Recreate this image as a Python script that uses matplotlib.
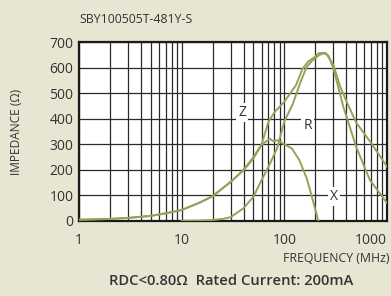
import matplotlib.pyplot as plt
from matplotlib.ticker import FixedLocator, NullFormatter

plt.rcParams['font.family'] = ['Open Sans', 'DejaVu Sans']

title = 'SBY100505T-481Y-S'
note = 'RDC<0.80Ω  Rated Current: 200mA'

# curves (MHz, ohm)
z_freq = [1, 2, 3, 5, 7, 10, 15, 20, 30, 40, 50, 60, 70, 80, 100, 130, 150,
          170, 200, 215, 240, 260, 300, 350, 400, 500, 700, 1000]
z_val = [5, 8, 12, 20, 30, 43, 72, 97, 153, 200, 250, 300, 388, 425, 467, 532,
         595, 623, 643, 656, 658, 650, 610, 525, 470, 385, 305, 212]

r_freq = [10, 15, 20, 25, 30, 40, 50, 60, 70, 85, 100, 120, 145, 165, 190,
          220, 250, 270, 300, 375, 500, 680, 1000]
r_val = [1, 2, 4, 8, 15, 50, 95, 160, 212, 285, 390, 455, 548, 603, 630,
         650, 658, 645, 597, 447, 290, 160, 70]

x_freq = [1, 2, 3, 5, 7, 10, 15, 20, 30, 40, 50, 60, 67, 72, 78, 85, 98,
          118, 140, 165, 185, 200, 214]
x_val = [5, 8, 12, 20, 30, 43, 72, 97, 153, 198, 245, 298, 312, 322, 312,
         316, 302, 284, 238, 167, 95, 45, 0]

y_ticks = [0, 100, 200, 300, 400, 500, 600, 700]
x_ticks = [1, 10, 100, 1000]
x_tick_labels = ['1', '10', '100', '1000']

bg = '#e6e6d3'
line_col = '#99a05a'
txt = '#333333'

fig = plt.figure(figsize=(3.91, 2.96), dpi=100, facecolor=bg)
ax = fig.add_axes([0.202, 0.2534, 0.788, 0.6046])
ax.set_facecolor('white')

ax.plot(z_freq, z_val, color=line_col, lw=1.4, zorder=3)
ax.plot(r_freq, r_val, color=line_col, lw=1.4, zorder=3)
ax.plot(x_freq, x_val, color=line_col, lw=1.4, zorder=3)

ax.set_xscale('log')
ax.set_xlim(1, 1000)
ax.set_ylim(0, 700)

# grid: every 100 ohm, every 1..9 per decade
minors = [m * d for d in (1, 10, 100) for m in range(2, 10)]
ax.xaxis.set_major_locator(FixedLocator(x_ticks))
ax.xaxis.set_minor_locator(FixedLocator(minors))
ax.xaxis.set_minor_formatter(NullFormatter())
ax.set_xticklabels(x_tick_labels)
ax.set_yticks(y_ticks)
ax.grid(which='both', axis='x', color='#2a2a2a', lw=0.9)
ax.grid(which='major', axis='y', color='#2a2a2a', lw=0.9)
ax.set_axisbelow(True)

ax.tick_params(which='both', length=0, labelsize=10, colors=txt)
ax.tick_params(axis='x', pad=9)
ax.tick_params(axis='y', pad=4)
ax.get_xticklabels()[-1].set_horizontalalignment('right')

for s in ax.spines.values():
    s.set_color('#1a1a1a')
    s.set_linewidth(1.6)

lbl_box = dict(facecolor='white', edgecolor='none', pad=1.5)
ax.text(39, 423, 'Z', fontsize=10, color=txt, ha='center', va='center', bbox=lbl_box, zorder=2)
ax.text(169, 375, 'R', fontsize=10, color=txt, ha='center', va='center', bbox=lbl_box, zorder=2)
ax.text(303, 95, 'X', fontsize=10, color=txt, ha='center', va='center', bbox=lbl_box, zorder=2)

fig.text(0.202, 0.935, title, fontsize=8.8, color=txt, ha='left', va='center')
fig.text(0.995, 0.125, 'FREQUENCY (MHz)', fontsize=8.8, color=txt, ha='right', va='center')
fig.text(0.043, 0.555, 'IMPEDANCE (Ω)', fontsize=8.6, color=txt, rotation=90,
         ha='center', va='center')
fig.text(0.59, 0.05, note, fontsize=10.6, color=txt, ha='center', va='center',
         fontweight='semibold')

fig.savefig('out.png', dpi=100, facecolor=bg)
